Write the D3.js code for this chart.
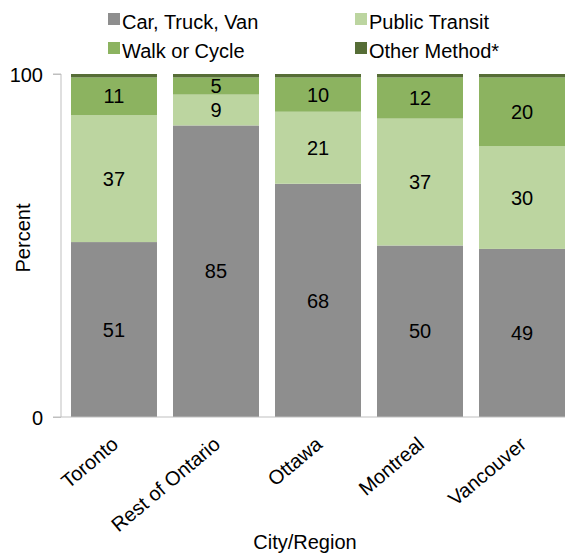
<!DOCTYPE html>
<html>
<head>
<meta charset="utf-8">
<script src="https://cdn.jsdelivr.net/npm/d3@7"></script>
<style>
  body { margin: 0; background: #fff; }
  svg text { font-family: "Liberation Sans", Arial, sans-serif; fill: #000; font-size: 20px; }
</style>
</head>
<body>
<svg id="chart" width="565" height="554"></svg>
<script>
// Commuting mode share by city/region (percent)
const regions = ["Toronto", "Rest of Ontario", "Ottawa", "Montreal", "Vancouver"];
const seriesNames = ["Car, Truck, Van", "Public Transit", "Walk or Cycle", "Other Method*"];
const carTruckVan = [51, 85, 68, 50, 49];
const publicTransit = [37, 9, 21, 37, 30];
const walkOrCycle = [11, 5, 10, 12, 20];
const otherMethod = [1, 1, 1, 1, 1];
const yTicks = [0, 100];
const colors = ["#8e8e8e", "#bcd5a0", "#8cb360", "#566d36"];

(function () {
const seriesValues = [carTruckVan, publicTransit, walkOrCycle, otherMethod];
const rows = regions.map((r, i) => {
  const o = { region: r };
  seriesNames.forEach((s, k) => { o[s] = seriesValues[k][i]; });
  return o;
});
const stacked = d3.stack().keys(seriesNames)(rows);

const svg = d3.select("#chart");
const plotLeft = 61, plotRight = 575, plotTop = 74, plotBottom = 417;

const x = d3.scaleBand().domain(regions).range([plotLeft, plotRight])
  .paddingInner(0.157).paddingOuter(0.098);
const y = d3.scaleLinear().domain([0, 100]).range([plotBottom, plotTop]);

// bars
const layers = svg.append("g").selectAll("g").data(stacked).join("g")
  .attr("fill", (d, i) => colors[i]);
layers.selectAll("rect").data(d => d).join("rect")
  .attr("x", d => x(d.data.region))
  .attr("width", x.bandwidth())
  .attr("y", d => y(d[1]))
  .attr("height", d => y(d[0]) - y(d[1]));

// value labels (first three series)
stacked.slice(0, 3).forEach(layer => {
  svg.append("g").selectAll("text").data(layer).join("text")
    .attr("x", d => x(d.data.region) + x.bandwidth() / 2)
    .attr("y", d => (y(d[0]) + y(d[1])) / 2)
    .attr("dy", "0.36em")
    .attr("text-anchor", "middle")
    .text(d => d[1] - d[0]);
});

// y axis
const yAxis = svg.append("g").attr("transform", `translate(${plotLeft},0)`)
  .call(d3.axisLeft(y).tickValues(yTicks).tickSize(8).tickPadding(10));
yAxis.select(".domain").attr("stroke", "#bfbfbf").attr("d", `M-8,${plotTop}H0V${plotBottom}H-8`);
yAxis.selectAll(".tick line").attr("stroke", "#bfbfbf");
yAxis.selectAll(".tick text").style("font-size", "20px").style("font-family", null).attr("dy", "0.35em");

// x axis baseline
svg.append("line").attr("x1", plotLeft).attr("x2", plotRight)
  .attr("y1", plotBottom).attr("y2", plotBottom).attr("stroke", "#bfbfbf");

// x tick labels
svg.append("g").selectAll("text").data(regions).join("text")
  .attr("transform", d => `translate(${x(d) + x.bandwidth() / 2 + 1},${plotBottom + 24}) rotate(-40)`)
  .attr("text-anchor", "end")
  .attr("dy", "0.35em")
  .text(d => d);

// axis titles
svg.append("text").attr("transform", "translate(30,238) rotate(-90)")
  .attr("text-anchor", "middle").text("Percent");
svg.append("text").attr("x", 305).attr("y", 549)
  .attr("text-anchor", "middle").text("City/Region");

// legend
const legendPos = [[108, 13], [355, 13], [108, 42], [355, 42]];
const legend = svg.append("g").selectAll("g").data(seriesNames).join("g")
  .attr("transform", (d, i) => `translate(${legendPos[i][0]},${legendPos[i][1]})`);
legend.append("rect").attr("width", 12).attr("height", 12).attr("fill", (d, i) => colors[i]);
legend.append("text").attr("x", 14).attr("y", 16).text(d => d);
})();
</script>
</body>
</html>
